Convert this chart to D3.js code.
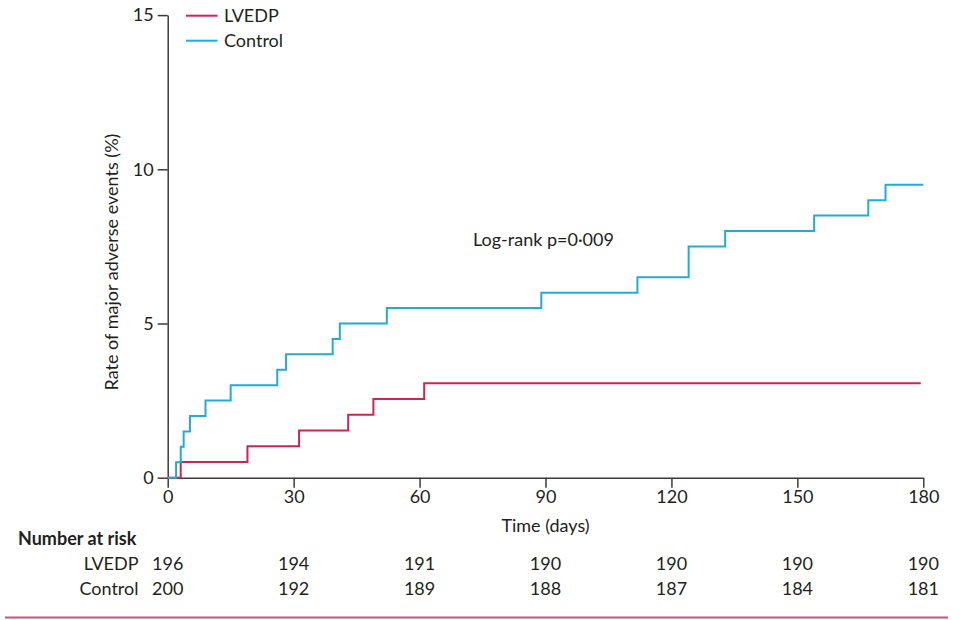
<!DOCTYPE html>
<html>
<head>
<meta charset="utf-8">
<script src="https://cdn.jsdelivr.net/npm/d3@7"></script>
<style>
  body { margin: 0; background: #fff; }
  svg { display: block; }
  text { font-family: Lato, "Open Sans", sans-serif; fill: #231f20; }
</style>
</head>
<body>
<svg id="chart" width="967" height="620"></svg>
<script>
// ---- data ----
const seriesNames = ["LVEDP", "Control"];
const lvedpDays   = [0, 3.1, 19, 31.3, 43, 49, 61.1, 179.4];
const lvedpRate   = [0, 0.51, 1.02, 1.53, 2.04, 2.55, 3.06, 3.06];
const controlDays = [0, 2, 3.1, 3.8, 5.3, 9, 15, 26.1, 28.2, 39.3, 41, 52.2, 89, 111.9, 124.1, 132.8, 154, 166.9, 171, 180];
const controlRate = [0, 0.5, 1.0, 1.5, 2.0, 2.5, 3.0, 3.5, 4.0, 4.5, 5.0, 5.5, 6.0, 6.5, 7.5, 8.0, 8.5, 9.0, 9.5, 9.5];
const xTicks = [0, 30, 60, 90, 120, 150, 180];
const yTicks = [0, 5, 10, 15];
const riskLVEDP   = [196, 194, 191, 190, 190, 190, 190];
const riskControl = [200, 192, 189, 188, 187, 184, 181];
const pValueText = "Log-rank p=0·009";

// ---- layout ----
const colors = { LVEDP: "#cc2453", Control: "#22acd3" };
const fs = "18px";
const svg = d3.select("#chart");
const x = d3.scaleLinear().domain([0, 180]).range([167.7, 923.3]);
const y = d3.scaleLinear().domain([0, 15]).range([477.7, 15.1]);
const axisColor = "#3b3b3b";

// axes
const gx = svg.append("g").attr("transform", `translate(0,${y(0)})`)
  .call(d3.axisBottom(x).tickValues(xTicks).tickSize(10).tickSizeOuter(0).tickPadding(3));
const gy = svg.append("g").attr("transform", `translate(${x(0)},0)`)
  .call(d3.axisLeft(y).tickValues(yTicks).tickSize(10).tickSizeOuter(0).tickPadding(4));
[gx, gy].forEach(g => {
  g.selectAll("path.domain").attr("stroke", axisColor).attr("stroke-width", 1.5);
  g.selectAll(".tick line").attr("stroke", axisColor).attr("stroke-width", 1.5);
  g.selectAll(".tick text").style("font-size", fs).attr("fill", "#231f20")
    .style("font-family", "Lato, 'Open Sans', sans-serif");
});

// axis titles
svg.append("text").attr("x", x(90)).attr("y", 532).attr("text-anchor", "middle")
  .style("font-size", fs).text("Time (days)");
svg.append("text").attr("transform", `translate(118,${262}) rotate(-90)`)
  .attr("text-anchor", "middle").style("font-size", fs)
  .text("Rate of major adverse events (%)");

// curves
const line = d3.line().x(d => x(d[0])).y(d => y(d[1])).curve(d3.curveStepAfter);
const series = [
  { name: "LVEDP", pts: d3.zip(lvedpDays, lvedpRate) },
  { name: "Control", pts: d3.zip(controlDays, controlRate) }
];
series.forEach(s => {
  svg.append("path").attr("d", line(s.pts)).attr("fill", "none")
    .attr("stroke", colors[s.name]).attr("stroke-width", 2);
});

// legend
seriesNames.forEach((n, i) => {
  const ly = 15.7 + i * 25;
  svg.append("line").attr("x1", 186).attr("x2", 217.5).attr("y1", ly).attr("y2", ly)
    .attr("stroke", colors[n]).attr("stroke-width", 2);
  svg.append("text").attr("x", 224).attr("y", ly).attr("dy", "0.35em")
    .style("font-size", fs).text(n);
});

// p value
svg.append("text").attr("x", 473).attr("y", 240).attr("dy", "0.35em")
  .style("font-size", fs).text(pValueText);

// number at risk
svg.append("text").attr("x", 18).attr("y", 539).attr("dy", "0.35em")
  .style("font-size", fs).style("font-weight", "bold").text("Number at risk");
const riskRows = [{ name: "LVEDP", vals: riskLVEDP, yy: 563.5 }, { name: "Control", vals: riskControl, yy: 588.5 }];
riskRows.forEach(r => {
  svg.append("text").attr("x", 138.5).attr("y", r.yy).attr("dy", "0.35em")
    .attr("text-anchor", "end").style("font-size", fs).text(r.name);
  r.vals.forEach((v, i) => {
    svg.append("text").attr("x", x(xTicks[i])).attr("y", r.yy).attr("dy", "0.35em")
      .attr("text-anchor", "middle").style("font-size", fs).text(v);
  });
});

// bottom rule
svg.append("line").attr("x1", 5).attr("x2", 948).attr("y1", 617.5).attr("y2", 617.5)
  .attr("stroke", "#c8527a").attr("stroke-width", 2);
</script>
</body>
</html>
